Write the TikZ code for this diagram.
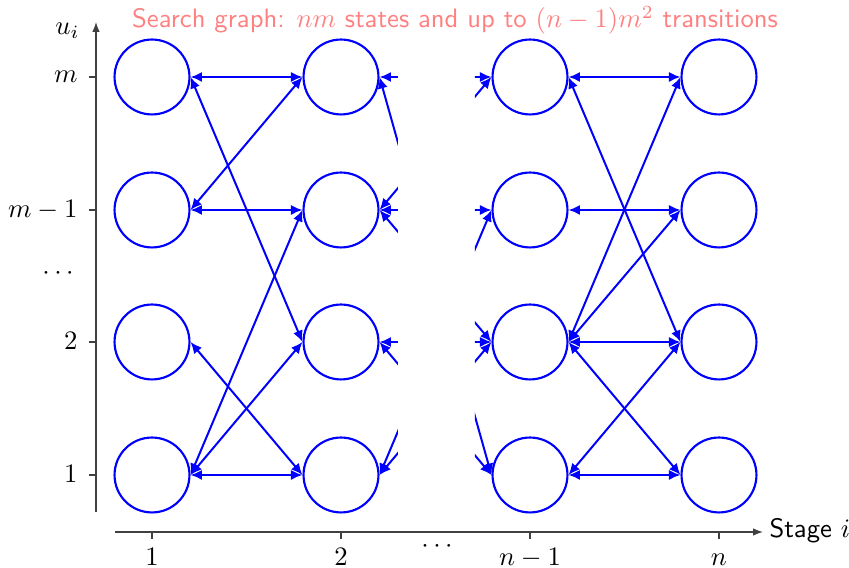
\documentclass[tikz,border=0pt]{standalone}
\usetikzlibrary{arrows.meta}
\begin{document}
\begin{tikzpicture}[x=0.375pt,y=-0.375pt,
  st/.style={circle,draw=blue,line width=0.8pt,minimum size=28.1pt,inner sep=0pt},
  tr/.style={blue,line width=0.75pt,{Latex[length=4.3pt,width=3.8pt]}-{Latex[length=4.3pt,width=3.8pt]}},
  ax/.style={line width=0.5pt,black!75},
  axarrow/.style={ax,-{Latex[length=3.7pt,width=2.8pt]}},
  lbl/.style={inner sep=0pt,black}]
\useasboundingbox (0,0) rectangle (849,568);
% states
\foreach \c/\x in {a/152,b/341,c/530,d/719}{
  \foreach \r/\y in {m/77,k/210,t/342,o/475}{
    \node[st] (\c\r) at (\x,\y) {};
  }
}
% stage 1 -> 2
\draw[tr] (am.east) -- (bm.west);
\draw[tr] (ak.east) -- (bk.west);
\draw[tr] (ao.east) -- (bo.west);
\draw[tr] (ak.east) -- (bm.west);
\draw[tr] (am.east) -- (bt.west);
\draw[tr] (at.east) -- (bo.west);
\draw[tr] (ao.east) -- (bk.west);
\draw[tr] (ao.east) -- (bt.west);
% stage n-1 -> n
\draw[tr] (cm.east) -- (dm.west);
\draw[tr] (cm.east) -- (dt.west);
\draw[tr] (ct.east) -- (dm.west);
\draw[tr] (ck.east) -- (dk.west);
\draw[tr] (ct.east) -- (dk.west);
\draw[tr] (ct.east) -- (dt.west);
\draw[tr] (ct.east) -- (do.west);
\draw[tr] (co.east) -- (dt.west);
\draw[tr] (co.east) -- (do.west);
% stubs leaving stage 2
\begin{scope}
\clip (341,0) rectangle (398,568);
\draw[tr] (bm.east) -- (cm.west);
\draw[tr] (bm.east) -- (co.west);
\draw[tr] (bk.east) -- (cm.west);
\draw[tr] (bk.east) -- (ck.west);
\draw[tr] (bk.east) -- (ct.west);
\draw[tr] (bt.east) -- (ct.west);
\draw[tr] (bt.east) -- (co.west);
\draw[tr] (bo.east) -- (ck.west);
\draw[tr] (bo.east) -- (ct.west);
\end{scope}
% stubs entering stage n-1
\begin{scope}
\clip (475,0) rectangle (530,568);
\draw[tr] (bm.east) -- (cm.west);
\draw[tr] (bk.east) -- (cm.west);
\draw[tr] (bk.east) -- (ck.west);
\draw[tr] (bo.east) -- (ck.west);
\draw[tr] (bk.east) -- (ct.west);
\draw[tr] (bt.east) -- (ct.west);
\draw[tr] (bo.east) -- (ct.west);
\draw[tr] (bm.east) -- (co.west);
\draw[tr] (bt.east) -- (co.west);
\end{scope}
% axes
\coordinate (yb) at (96,512);
\coordinate (yt) at (96,22);
\coordinate (xl) at (115,532);
\coordinate (xr) at (763,532);
\draw[axarrow] (yb) -- (yt);
\draw[axarrow] (xl) -- (xr);
\node[lbl,anchor=base east] (ul) at (80,35) {$u_i$};
\node[lbl,anchor=base west] (sl) at (769,538) {\sffamily Stage $i$};
% y ticks
\foreach \y/\t/\b in {77/m/83,210/m-1/218,342/2/350,475/1/483}{
  \draw[ax] (89,\y) -- (96,\y);
  \node[lbl,anchor=base east] at (78,\b) {$\t$};
}
\node[lbl] (yd) at (58,274) {$\cdots$};
% x ticks
\foreach \x/\t in {152/1,341/2,530/n-1,719/n}{
  \draw[ax] (\x,532) -- (\x,539);
  \node[lbl,anchor=base] at (\x,566) {$\t$};
}
\node[lbl] (xd) at (437,547) {$\cdots$};
% title
\node[lbl,anchor=base,text=red!50] (title) at (455,28) {\sffamily Search graph: $nm$ states and up to $(n-1)m^2$ transitions};
\end{tikzpicture}
\end{document}
